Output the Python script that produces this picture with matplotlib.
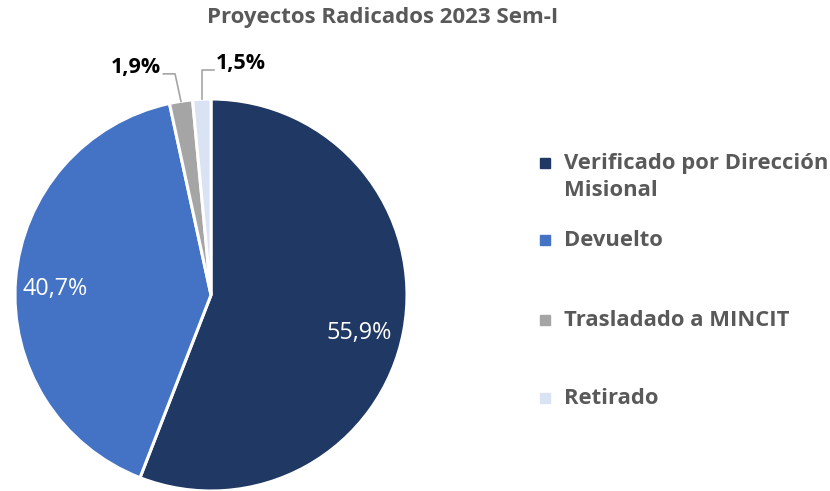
import numpy as np
import matplotlib
matplotlib.use("Agg")
from matplotlib import pyplot as plt
from matplotlib.patches import Rectangle

title = "Proyectos Radicados 2023 Sem-I"
categorias = ["Verificado por Dirección\nMisional", "Devuelto", "Trasladado a MINCIT", "Retirado"]
valores = [55.9, 40.7, 1.9, 1.5]
etiquetas = ["55,9%", "40,7%", "1,9%", "1,5%"]
colores = ["#203864", "#4472C4", "#A5A5A5", "#DAE3F3"]

plt.rcParams['font.family'] = ['Open Sans', 'DejaVu Sans']

W, H = 830, 491
fig = plt.figure(figsize=(W / 100, H / 100), dpi=100)

# pie axes: centre (211, 295) px, radius 196 px
cx, cy, r = 211, 295, 196
ax = fig.add_axes([(cx - r) / W, (H - cy - r) / H, 2 * r / W, 2 * r / H])
wedges, _ = ax.pie(valores, colors=colores, startangle=90, counterclock=False,
                   radius=1.0, wedgeprops=dict(edgecolor="white", linewidth=2.2))
ax.set_xlim(-1, 1)
ax.set_ylim(-1, 1)
ax.set_aspect("equal")
ax.axis("off")

# etiquetas internas (radio, desplazamiento vertical)
pos_int = [(0.77, -0.05), (0.8, -0.03)]
for w, lab, (rr, dy) in zip(wedges[:2], etiquetas[:2], pos_int):
    ang = np.deg2rad((w.theta1 + w.theta2) / 2)
    ax.text(rr * np.cos(ang), rr * np.sin(ang) + dy, lab, color="white",
            fontsize=16.8, ha="center", va="center")

# etiquetas externas con líneas guía
w = wedges[2]
ang = np.deg2rad((w.theta1 + w.theta2) / 2)
x0, y0 = np.cos(ang), np.sin(ang)
ax.plot([x0, x0 - 0.03, x0 - 0.09], [y0, y0 + 0.14, y0 + 0.14], color="#A5A5A5", lw=1.2, clip_on=False)
ax.text(x0 - 0.1, y0 + 0.17, etiquetas[2], fontsize=15.5, fontweight="bold",
        ha="right", va="center", color="black")

w = wedges[3]
ang = np.deg2rad((w.theta1 + w.theta2) / 2)
x0, y0 = np.cos(ang), np.sin(ang)
ax.plot([x0, x0, x0 + 0.06], [y0, y0 + 0.15, y0 + 0.15], color="#A5A5A5", lw=1.2, clip_on=False)
ax.text(x0 + 0.07, y0 + 0.18, etiquetas[3], fontsize=15.5, fontweight="bold",
        ha="left", va="center", color="black")

fig.text(383 / W, 1 - 18 / H, title, fontsize=16, fontweight="bold", color="#595959",
         ha="center", va="center")

# leyenda
ys = [163, 240, 320, 398]
for y, cat, col in zip(ys, categorias, colores):
    fig.patches.append(Rectangle(((545 - 5) / W, 1 - (y + 5) / H), 10 / W, 10 / H,
                                 transform=fig.transFigure, color=col))
    ty = y + 14 if "\n" in cat else y
    fig.text(564 / W, 1 - ty / H, cat, fontsize=15.8, fontweight="bold",
             color="#595959", ha="left", va="center", linespacing=1.32)
fig.savefig("out.png", dpi=100)
